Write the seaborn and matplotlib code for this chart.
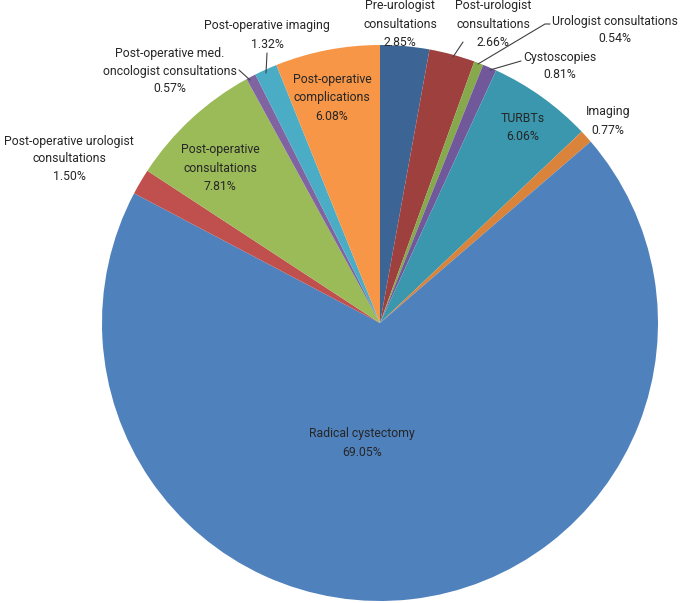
import matplotlib
matplotlib.use("Agg")
import matplotlib.pyplot as plt
import seaborn as sns

# cost components, clockwise from 12 o'clock
categories = [
    "Pre-urologist\nconsultations",
    "Post-urologist\nconsultations",
    "Urologist consultations",
    "Cystoscopies",
    "TURBTs",
    "Imaging",
    "Radical cystectomy",
    "Post-operative urologist\nconsultations",
    "Post-operative\nconsultations",
    "Post-operative med.\noncologist consultations",
    "Post-operative imaging",
    "Post-operative\ncomplications",
]
shares = [2.85, 2.66, 0.54, 0.81, 6.06, 0.77, 69.05, 1.50, 7.81, 0.57, 1.32, 6.08]

colors = ["#3C6596", "#9E413E", "#86A94C", "#71589A", "#3A97AE", "#DA833A",
          "#4F81BD", "#C0504D", "#9BBB59", "#8064A2", "#4BACC6", "#F79646"]

# label centres in pixel coords (x, y from top)
label_pos = [(400, 24), (493, 24), (615, 30), (560, 66), (523, 128), (608, 121),
             (362, 443), (69, 159), (220, 168), (170, 71), (267, 35), (332, 98)]

# leader lines (pixel coords, y from top), keyed by slice index
leaders = {
    1: [(463, 42), (453, 57)],
    2: [(550, 24), (545, 24), (478, 64)],
    3: [(521, 61), (490, 70)],
    9: [(239, 70), (250, 80)],
    10: [(267, 53), (266, 73)],
}

W, H = 685, 603
sns.set_theme(style="white")
plt.rcParams["font.family"] = ["Roboto", "DejaVu Sans"]

fig = plt.figure(figsize=(W / 100, H / 100), dpi=100)
ax = fig.add_axes([0, 0, 1, 1])

cx, cy, r = 380, 323, 278
ax.pie(shares, colors=colors, startangle=90, counterclock=False,
       center=(cx, H - cy), radius=r, wedgeprops=dict(linewidth=0),
       frame=True)
ax.set_xlim(0, W)
ax.set_ylim(0, H)
ax.set_aspect("equal")
ax.axis("off")

for i, (lab, val) in enumerate(zip(categories, shares)):
    x, y = label_pos[i]
    ax.text(x, H - y, f"{lab}\n{val:.2f}%", ha="center", va="center",
            fontsize=8.8, color="#262626", linespacing=1.5)

for pts in leaders.values():
    xs = [p[0] for p in pts]
    ys = [H - p[1] for p in pts]
    ax.plot(xs, ys, color="#404040", linewidth=0.8)

fig.savefig("out.png", dpi=100)
